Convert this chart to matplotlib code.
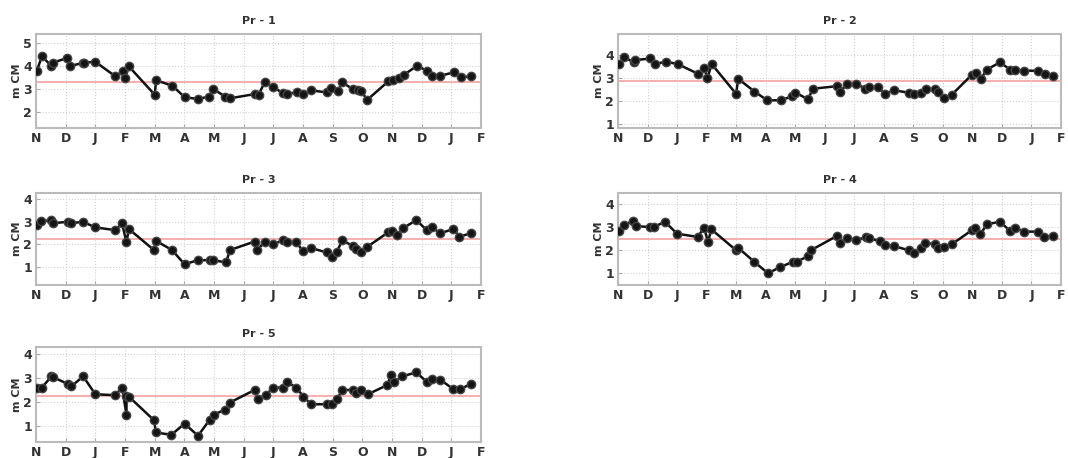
import matplotlib
matplotlib.use("Agg")
import matplotlib.pyplot as plt

# month labels, Nov .. Feb (x = months since start of Nov)
months = ['N', 'D', 'J', 'F', 'M', 'A', 'M', 'J', 'J', 'A', 'S', 'O', 'N', 'D', 'J', 'F']

pr1_t = [0.03, 0.2, 0.52, 0.58, 1.06, 1.16, 1.57, 1.63, 2.0, 2.67, 2.92, 3.0, 3.13, 4.0, 4.05,
         4.6, 5.01, 5.46, 5.84, 5.98, 6.38, 6.53, 7.39, 7.5, 7.71, 8.0, 8.32, 8.47, 8.81, 9.0,
         9.27, 9.8, 9.94, 10.17, 10.32, 10.67, 10.85, 10.96, 11.17, 11.87, 12.03, 12.22, 12.41,
         12.84, 13.17, 13.34, 13.63, 14.09, 14.33, 14.65]
pr1_v = [3.8, 4.42, 4.0, 4.15, 4.35, 4.0, 4.13, 4.15, 4.18, 3.55, 3.76, 3.47, 3.98, 2.74, 3.37,
         3.13, 2.63, 2.55, 2.66, 2.98, 2.66, 2.58, 2.77, 2.74, 3.28, 3.07, 2.81, 2.78, 2.84, 2.78,
         2.93, 2.84, 3.03, 2.88, 3.28, 2.99, 2.96, 2.88, 2.52, 3.32, 3.4, 3.47, 3.62,
         4.0, 3.8, 3.57, 3.57, 3.72, 3.51, 3.54]

pr2_t = [0.05, 0.2, 0.55, 0.58, 1.1, 1.24, 1.63, 2.02, 2.72, 2.92, 3.03, 3.17, 4.0, 4.07, 4.62,
         5.05, 5.52, 5.9, 6.01, 6.44, 6.59, 7.41, 7.53, 7.76, 8.07, 8.38, 8.5, 8.8, 9.03, 9.35,
         9.85, 10.02, 10.26, 10.43, 10.74, 10.84, 11.05, 11.3, 11.98, 12.12, 12.29, 12.49,
         12.93, 13.28, 13.45, 13.74, 14.21, 14.45, 14.74]
pr2_v = [3.6, 3.89, 3.67, 3.77, 3.84, 3.6, 3.7, 3.6, 3.17, 3.41, 2.99, 3.6, 2.31, 2.96, 2.41,
         2.03, 2.03, 2.21, 2.36, 2.07, 2.53, 2.64, 2.41, 2.74, 2.74, 2.53, 2.6, 2.6, 2.31, 2.46,
         2.36, 2.31, 2.36, 2.5, 2.53, 2.41, 2.13, 2.27, 3.13, 3.21, 2.96, 3.36,
         3.67, 3.36, 3.36, 3.31, 3.31, 3.17, 3.07]

pr3_t = [0.03, 0.17, 0.5, 0.58, 1.08, 1.19, 1.57, 2.0, 2.67, 2.9, 3.05, 3.13, 3.98, 4.04, 4.58,
         5.01, 5.45, 5.86, 5.97, 6.41, 6.53, 7.37, 7.46, 7.71, 8.0, 8.32, 8.47, 8.78, 8.99, 9.28,
         9.8, 9.97, 10.15, 10.32, 10.67, 10.79, 10.94, 11.17, 11.87, 12.01, 12.18, 12.38,
         12.82, 13.17, 13.34, 13.63, 14.07, 14.27, 14.65]
pr3_v = [2.87, 3.01, 3.07, 2.93, 3.0, 2.93, 3.0, 2.75, 2.63, 2.93, 2.09, 2.68, 1.75, 2.16, 1.76,
         1.13, 1.31, 1.31, 1.31, 1.21, 1.75, 2.13, 1.75, 2.13, 2.01, 2.19, 2.09, 2.09, 1.72, 1.84,
         1.65, 1.46, 1.69, 2.19, 1.94, 1.79, 1.65, 1.9, 2.53, 2.6, 2.43, 2.72,
         3.07, 2.63, 2.75, 2.49, 2.68, 2.34, 2.49]

pr4_t = [0.05, 0.2, 0.51, 0.6, 1.09, 1.21, 1.59, 2.0, 2.7, 2.91, 3.05, 3.16, 4.0, 4.07, 4.62,
         5.08, 5.49, 5.93, 6.05, 6.44, 6.53, 7.41, 7.53, 7.76, 8.07, 8.4, 8.51, 8.86, 9.03, 9.35,
         9.85, 10.02, 10.26, 10.4, 10.74, 10.84, 11.05, 11.3, 11.98, 12.09, 12.27, 12.49,
         12.93, 13.28, 13.45, 13.74, 14.21, 14.42, 14.74]
pr4_v = [2.83, 3.09, 3.26, 3.04, 3.0, 3.0, 3.23, 2.71, 2.57, 2.97, 2.36, 2.9, 1.99, 2.1, 1.48,
         0.99, 1.26, 1.49, 1.49, 1.74, 1.99, 2.61, 2.32, 2.54, 2.42, 2.57, 2.51, 2.39, 2.22, 2.17,
         1.99, 1.88, 2.1, 2.32, 2.25, 2.1, 2.13, 2.25, 2.86, 2.97, 2.68, 3.12,
         3.23, 2.83, 2.97, 2.8, 2.8, 2.57, 2.61]

pr5_t = [0.03, 0.2, 0.52, 0.58, 1.08, 1.19, 1.59, 2.0, 2.67, 2.9, 3.05, 3.05, 3.13, 3.98, 4.04,
         4.56, 5.01, 5.46, 5.86, 6.0, 6.38, 6.53, 7.37, 7.48, 7.74, 8.0, 8.32, 8.47, 8.78, 9.01,
         9.28, 9.8, 9.97, 10.15, 10.32, 10.67, 10.79, 10.96, 11.19, 11.83, 11.98, 12.06, 12.35,
         12.82, 13.17, 13.34, 13.63, 14.07, 14.3, 14.65]
pr5_v = [2.6, 2.6, 3.07, 3.03, 2.75, 2.65, 3.07, 2.32, 2.28, 2.6, 1.47, 2.25, 2.22, 1.23, 0.72,
         0.62, 1.09, 0.58, 1.26, 1.47, 1.68, 1.97, 2.5, 2.14, 2.28, 2.6, 2.6, 2.82, 2.6, 2.22,
         1.9, 1.9, 1.9, 2.11, 2.5, 2.5, 2.36, 2.5, 2.32, 2.7, 3.13, 2.82, 3.07,
         3.24, 2.84, 2.96, 2.93, 2.53, 2.53, 2.75]

titles = ['Pr - 1', 'Pr - 2', 'Pr - 3', 'Pr - 4', 'Pr - 5']
series = [(pr1_t, pr1_v), (pr2_t, pr2_v), (pr3_t, pr3_v), (pr4_t, pr4_v), (pr5_t, pr5_v)]
means = [3.3, 2.87, 2.22, 2.48, 2.25]
ylims = [(1.28, 5.4), (0.83, 4.9), (0.22, 4.26), (0.48, 4.48), (0.32, 4.3)]
yticks = [[2, 3, 4, 5], [1, 2, 3, 4], [1, 2, 3, 4], [1, 2, 3, 4], [1, 2, 3, 4]]

W, H = 1068, 458
# axes boxes in pixels: left, top, width, height
boxes = [(36, 34, 445, 94), (618, 34, 443, 94),
         (36, 193, 445, 92), (618, 193, 443, 92),
         (36, 347, 445, 95)]

fig = plt.figure(figsize=(W / 100, H / 100), dpi=100)

for i in range(5):
    l, t, w, h = boxes[i]
    ax = fig.add_axes([l / W, (H - t - h) / H, w / W, h / H])
    x, y = series[i]
    ax.axhline(means[i], color='#f5a8a8', lw=1.3, zorder=1)
    ax.plot(x, y, '-o', color='#111111', lw=1.8, ms=6,
            mfc='#151515', mec='#444444', mew=1.0, zorder=3)
    ax.set_xlim(0, 15)
    ax.set_ylim(*ylims[i])
    ax.set_xticks(range(16))
    ax.set_xticklabels(months)
    ax.set_yticks(yticks[i])
    ax.grid(True, linestyle=':', color='#d2d2d2', lw=0.8)
    ax.tick_params(direction='in', length=3, color='#aaaaaa', labelsize=9,
                   labelcolor='#333333', pad=3)
    for lab in ax.get_xticklabels() + ax.get_yticklabels():
        lab.set_fontweight('bold')
    for sp in ax.spines.values():
        sp.set_color('#bbbbbb')
        sp.set_linewidth(1.5)
    ax.set_title(titles[i], fontsize=8, fontweight='bold', color='#333333', pad=7)
    ax.set_ylabel('m CM', fontsize=8, fontweight='bold', color='#333333', labelpad=1)

fig.savefig('out.png', dpi=100)
